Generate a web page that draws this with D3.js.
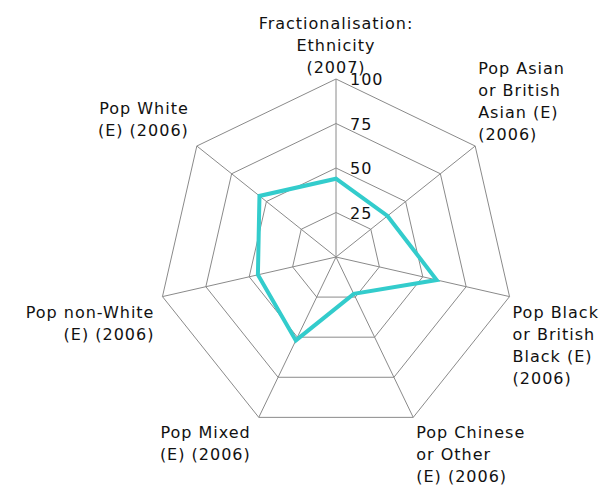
<!DOCTYPE html>
<html>
<head>
<meta charset="utf-8">
<script src="https://d3js.org/d3.v7.min.js"></script>
<style>
  html, body { margin: 0; padding: 0; background: #fff; }
  text { font-family: "DejaVu Sans", Verdana, sans-serif; font-size: 16px; fill: #111; letter-spacing: 1px; }
</style>
</head>
<body>
<div id="chart"></div>
<script>
/** Axis labels (one array of lines per spoke), clockwise from the top */
const axisLabels = [
  ["Fractionalisation:", "Ethnicity", "(2007)"],
  ["Pop Asian", "or British", "Asian (E)", "(2006)"],
  ["Pop Black", "or British", "Black (E)", "(2006)"],
  ["Pop Chinese", "or Other", "(E) (2006)"],
  ["Pop Mixed", "(E) (2006)"],
  ["Pop non-White", "(E) (2006)"],
  ["Pop White", "(E) (2006)"]
];
/** Series values */
const values = [44, 37, 58, 23, 52, 45, 55];
/** Grid levels / tick labels */
const ticks = [25, 50, 75, 100];

const w = 610, h = 487;
const cx = 336, cy = 257, radius = 178;
const lineH = 22;

const svg = d3.select("#chart")
  .append("svg")
  .attr("width", w)
  .attr("height", h);

const r = d3.scaleLinear().domain([0, 100]).range([0, radius]);
const angle = d3.scaleLinear().domain([0, axisLabels.length]).range([0, 2 * Math.PI]);

const pt = (i, v) => [cx + r(v) * Math.sin(angle(i)), cy - r(v) * Math.cos(angle(i))];

const g = svg.append("g");

/** Grid polygons */
g.selectAll("polygon.grid")
  .data(ticks)
  .enter()
  .append("polygon")
  .attr("class", "grid")
  .attr("points", (t) => axisLabels.map((d, i) => pt(i, t).join(",")).join(" "))
  .attr("fill", "none")
  .attr("stroke", "#8a8a8a")
  .attr("stroke-width", 1);

/** Spokes */
g.selectAll("line.spoke")
  .data(axisLabels)
  .enter()
  .append("line")
  .attr("class", "spoke")
  .attr("x1", cx)
  .attr("y1", cy)
  .attr("x2", (d, i) => pt(i, 100)[0])
  .attr("y2", (d, i) => pt(i, 100)[1])
  .attr("stroke", "#8a8a8a")
  .attr("stroke-width", 1);

/** Data line */
const radial = d3.lineRadial()
  .angle((d, i) => angle(i))
  .radius((d) => r(d))
  .curve(d3.curveLinearClosed);

g.append("path")
  .datum(values)
  .attr("transform", "translate(" + cx + "," + cy + ")")
  .attr("d", radial)
  .attr("fill", "none")
  .attr("stroke", "#33cccc")
  .attr("stroke-width", 4)
  .attr("stroke-linejoin", "miter");

/** Tick labels along the top spoke */
g.selectAll("text.tick")
  .data(ticks)
  .enter()
  .append("text")
  .attr("class", "tick")
  .attr("x", cx + 14)
  .attr("y", (t) => cy - r(t) + 6)
  .text((t) => t);

/** Axis labels */
axisLabels.forEach(function(lines, i) {
  const [vx, vy] = pt(i, 100);
  const s = Math.sin(angle(i)), c = Math.cos(angle(i));
  const anchor = s > 0.1 ? "start" : (s < -0.1 ? "end" : "middle");
  const dx = anchor === "start" ? 3 : (anchor === "end" ? -8 : 0);
  let y0;
  if (c > 0) {
    y0 = vy - 6 - (lines.length - 1) * lineH - (anchor === "end" ? 4 : 0);
  } else {
    y0 = vy + 21;
  }
  const t = g.append("text")
    .attr("text-anchor", anchor);
  t.selectAll("tspan")
    .data(lines)
    .enter()
    .append("tspan")
    .attr("x", vx + dx)
    .attr("y", (d, k) => y0 + k * lineH)
    .text((d) => d);
});
</script>
</body>
</html>
